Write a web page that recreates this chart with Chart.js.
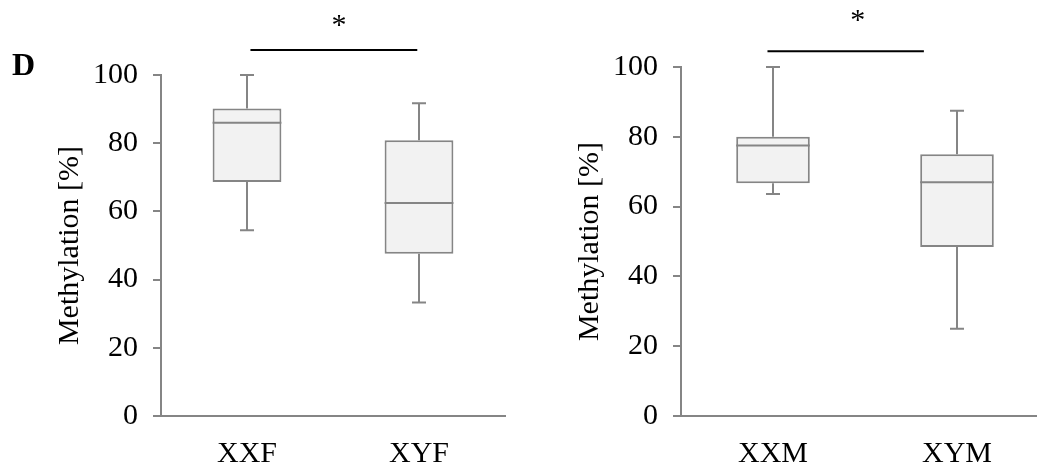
<!DOCTYPE html>
<html>
<head>
<meta charset="utf-8">
<script src="https://cdn.jsdelivr.net/npm/chart.js@4"></script>
<style>
  html, body { margin: 0; padding: 0; background: #fff; overflow: hidden; }
  .panel { position: absolute; top: 0; }
</style>
</head>
<body>
<canvas id="chart-female" class="panel" style="left:0px" width="520" height="466"></canvas>
<canvas id="chart-male" class="panel" style="left:520px" width="544" height="466"></canvas>
<script>
// box plot values, methylation in %
const femaleGroups = ["XXF", "XYF"];
const femaleMin = [54.5, 33.3];
const femaleQ1 = [68.6, 47.6];
const femaleMedian = [86, 62.5];
const femaleQ3 = [90.2, 80.9];
const femaleMax = [100, 91.7];

const maleGroups = ["XXM", "XYM"];
const maleMin = [63.6, 25];
const maleQ1 = [66.7, 48.4];
const maleMedian = [77.5, 67];
const maleQ3 = [80, 75];
const maleMax = [100, 87.5];

const yMin = 0;
const yMax = 100;
const yStep = 20;
const yTitle = "Methylation [%]";
const significance = "*";

const GREY = "#858585";
const FILL = "#f2f2f2";
const SERIF = "'Liberation Serif', 'Times New Roman', serif";

// whiskers + median line drawn on top of the floating bars
const boxPlotLines = {
  id: "boxPlotLines",
  afterDatasetsDraw(chart, args, opts) {
    const ctx = chart.ctx;
    const y = chart.scales.y;
    const meta = chart.getDatasetMeta(0);
    ctx.save();
    ctx.strokeStyle = GREY;
    ctx.lineWidth = 2;
    meta.data.forEach((bar, i) => {
      const half = bar.width / 2;
      const cap = 7;
      const yLo = y.getPixelForValue(opts.min[i]);
      const yQ1 = y.getPixelForValue(opts.q1[i]);
      const yQ3 = y.getPixelForValue(opts.q3[i]);
      const yHi = y.getPixelForValue(opts.max[i]);
      const yMed = y.getPixelForValue(opts.median[i]);
      ctx.beginPath();
      // upper whisker
      ctx.moveTo(bar.x, yQ3);
      ctx.lineTo(bar.x, yHi);
      ctx.moveTo(bar.x - cap, yHi);
      ctx.lineTo(bar.x + cap, yHi);
      // lower whisker
      ctx.moveTo(bar.x, yQ1);
      ctx.lineTo(bar.x, yLo);
      ctx.moveTo(bar.x - cap, yLo);
      ctx.lineTo(bar.x + cap, yLo);
      // median
      ctx.moveTo(bar.x - half, yMed);
      ctx.lineTo(bar.x + half, yMed);
      ctx.stroke();
    });
    ctx.restore();
  }
};

// significance bar with the star, and the panel letter
const annotations = {
  id: "annotations",
  afterDraw(chart, args, opts) {
    const ctx = chart.ctx;
    const x = chart.scales.x;
    const y = chart.scales.y;
    const x0 = x.getPixelForValue(opts.from);
    const x1 = x.getPixelForValue(opts.to);
    const yl = y.getPixelForValue(opts.level);
    ctx.save();
    ctx.strokeStyle = "#000";
    ctx.lineWidth = 2;
    ctx.beginPath();
    ctx.moveTo(x0, yl);
    ctx.lineTo(x1, yl);
    ctx.stroke();
    ctx.fillStyle = "#000";
    ctx.font = "30px " + SERIF;
    ctx.textAlign = "center";
    ctx.textBaseline = "alphabetic";
    ctx.fillText(significance, x.getPixelForValue(opts.starAt), yl - opts.starGap);
    if (opts.letter) {
      ctx.font = "bold 32px " + SERIF;
      ctx.textAlign = "left";
      ctx.fillText(opts.letter, 12, 75);
    }
    ctx.restore();
  }
};

function boxChart(canvasId, groups, mins, q1s, medians, q3s, maxs, topPad, note) {
  const boxes = groups.map((g, i) => [q1s[i], q3s[i]]);
  return new Chart(document.getElementById(canvasId), {
    type: "bar",
    data: {
      labels: groups,
      datasets: [{
        data: boxes,
        backgroundColor: FILL,
        borderColor: GREY,
        borderWidth: 2,
        borderSkipped: false,
        categoryPercentage: 1,
        barPercentage: 0.4
      }]
    },
    options: {
      responsive: false,
      animation: false,
      events: [],
      layout: { padding: { left: 0, top: topPad, right: 15, bottom: 0 } },
      plugins: {
        legend: { display: false },
        tooltip: { enabled: false },
        boxPlotLines: { min: mins, q1: q1s, median: medians, q3: q3s, max: maxs },
        annotations: note
      },
      scales: {
        x: {
          grid: { display: false, drawTicks: false },
          border: { color: GREY, width: 2 },
          ticks: { color: "#000", padding: 20, font: { family: SERIF, size: 30 } },
          afterFit(scale) { scale.height = 50; }
        },
        y: {
          min: yMin,
          max: yMax,
          ticks: { stepSize: yStep, color: "#000", padding: 15, font: { family: SERIF, size: 30 } },
          grid: { drawOnChartArea: false, drawTicks: true, tickLength: 8, color: GREY, lineWidth: 2 },
          border: { color: GREY, width: 2 },
          title: {
            display: true,
            text: yTitle,
            color: "#000",
            font: { family: SERIF, size: 30 },
            padding: { top: 52, bottom: 0 }
          },
          afterFit(scale) { scale.width = 161; }
        }
      }
    },
    plugins: [boxPlotLines, annotations]
  });
}

boxChart("chart-female", femaleGroups, femaleMin, femaleQ1, femaleMedian, femaleQ3, femaleMax, 75,
  { from: 0.02, to: 0.99, level: 107.3, starAt: 0.535, starGap: 16, letter: "D" });

boxChart("chart-male", maleGroups, maleMin, maleQ1, maleMedian, maleQ3, maleMax, 67,
  { from: -0.03, to: 0.82, level: 104.5, starAt: 0.46, starGap: 22 });
</script>
</body>
</html>
